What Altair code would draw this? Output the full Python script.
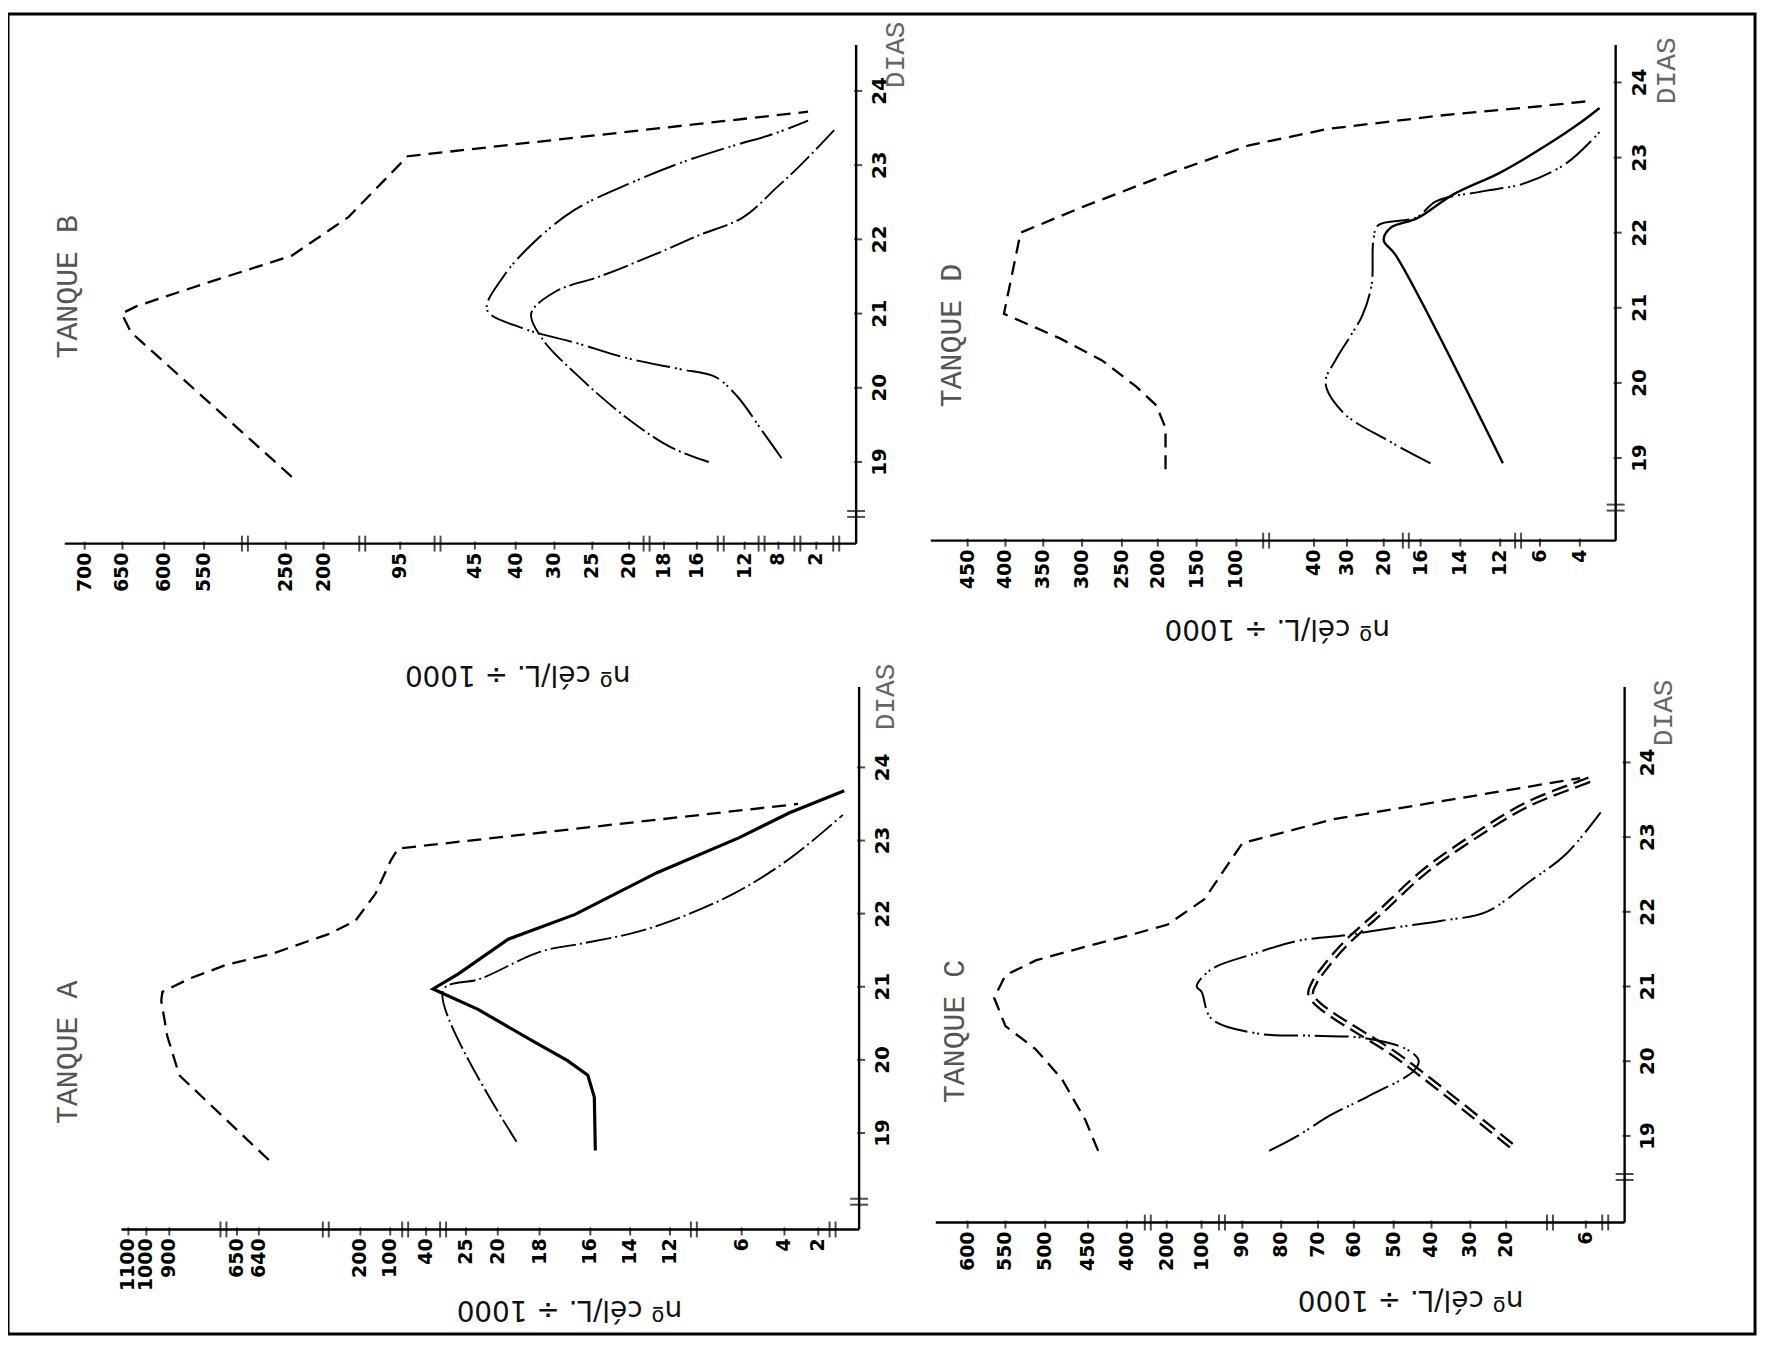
import altair as alt
import pandas as pd

# ---------------- values ----------------
days = [19, 20, 21, 22, 23, 24]

# tick labels of the value axes (n. cel/L / 1000)
A_ticks = [1100, 1000, 900, 650, 640, 200, 100, 40, 25, 20, 18, 16, 14, 12, 6, 4, 2]
B_ticks = [700, 650, 600, 550, 250, 200, 95, 45, 40, 30, 25, 20, 18, 16, 12, 8, 2]
C_ticks = [600, 550, 500, 450, 400, 200, 100, 90, 80, 70, 60, 50, 40, 30, 20, 6]
D_ticks = [450, 400, 350, 300, 250, 200, 150, 100, 40, 30, 20, 16, 14, 12, 6, 4]

# axis breaks (values along the value axis, and day on the day axis)
A_breaks = [700, 350, 75, 33.6, 10, 1.3]
B_breaks = [400, 147, 70, 19, 14, 10, 5, 1]
C_breaks = [295, 95, 12.3, 3]
D_breaks = [77, 17.6, 9.3]
A_day_break = [18.06]
B_day_break = [18.30]
C_day_break = [18.45]
D_day_break = [18.34]

# ---- TANQUE A ----
A_dash_day = [18.63, 19.79, 20.33, 20.81, 20.93, 21.11, 21.3, 21.45, 21.72, 21.9, 22.27, 22.74, 22.89, 23.5]
A_dash_val = [597, 863, 909, 935, 930, 826, 690, 584, 338, 222, 150, 98.3, 86.7, 3.2]
A_solid_day = [18.76, 19.49, 19.79, 19.99, 20.27, 20.69, 20.97, 21.18, 21.65, 21.99, 22.56, 23.04, 23.38, 23.68]
A_solid_val = [15.75, 15.8, 16.1, 16.9, 18.4, 23.1, 37.4, 27.7, 19.5, 16.6, 12.65, 6.2, 3.7, 0.73]
A_cross_day = [18.88, 20.95, 21.11, 21.48, 21.6, 21.75, 21.97, 22.27, 22.62, 22.93, 23.35]
A_cross_val = [19.1, 33.6, 22.7, 17.96, 16.2, 13.65, 10.8, 6.7, 4.4, 2.7, 0.8]

# ---- TANQUE B ----
B_dash_day = [18.8, 20.75, 21.0, 21.1, 21.38, 21.78, 22.3, 23.12, 23.72]
B_dash_val = [242, 640, 651, 633, 556, 242, 166, 90, 3.3]
B_plus_day = [19.0, 19.2, 19.6, 20.17, 20.65, 21.0, 21.3, 21.5, 21.78, 22.05, 22.3, 22.7, 23.0, 23.5]
B_plus_val = [15, 17.6, 20.4, 27, 33, 36, 29.8, 24, 18.7, 15.9, 12.1, 8.2, 4.5, 1.0]
B_eq_day = [19.05, 19.4, 19.9, 20.15, 20.25, 20.4, 20.6, 20.8, 21.05, 21.5, 21.95, 22.4, 22.77, 23.03, 23.25, 23.42, 23.6]
B_eq_val = [7.5, 9.8, 12.7, 14.5, 17, 20.3, 27, 38, 43.5, 41.5, 35.5, 27.3, 19.8, 17, 13.2, 8.6, 3.3]

# ---- TANQUE C ----
C_dash_day = [18.8, 19.21, 19.75, 20.16, 20.47, 20.85, 21.15, 21.35, 21.52, 21.68, 21.83, 22.17, 22.92, 23.24, 23.79]
C_dash_val = [437, 453, 480, 512, 550, 565, 550, 512, 457, 395, 197, 99.3, 90, 65.6, 7]
C_dd_day = [18.87, 20.01, 20.88, 21.05, 21.29, 21.59, 22.0, 22.53, 23.0, 23.43, 23.72, 23.77]
C_dd_val = [19.1, 47.4, 71.9, 71, 67.5, 62, 53.3, 42.1, 29.2, 16.5, 7.05, 5.4]
C_bar_day = [18.8, 18.99, 19.28, 19.52, 19.87, 20.01, 20.16, 20.31, 20.34, 20.37, 20.57, 20.93, 21.0,
             21.23, 21.44, 21.61, 21.68, 21.79, 21.88, 22.0, 22.41, 22.77, 23.33]
C_bar_val = [83.1, 75.9, 66.4, 56.75, 44.7, 43.4, 46.6, 57.5, 71, 86, 97.6, 100, 114,
             97.6, 86.9, 75.7, 63.6, 49.5, 37.4, 25.5, 15.8, 9.5, 3.7]

# ---- TANQUE D ----
D_dash_day = [18.85, 19.4, 19.7, 19.95, 20.3, 20.6, 20.92, 22.0, 22.34, 22.8, 23.16, 23.38, 23.56, 23.68, 23.75]
D_dash_val = [190, 190, 202, 230, 275, 330, 402, 380, 300, 182, 91, 36, 15, 6.4, 3.1]
D_solid_day = [18.93, 21.7, 21.9, 22.07, 22.19, 22.51, 22.8, 23.16, 23.46, 23.66]
D_solid_val = [11.6, 18.7, 20, 19.2, 16.4, 14.35, 12, 5.7, 4, 1.8]
D_eq_day = [18.93, 19.23, 19.6, 20.0, 20.3, 20.65, 20.9, 21.3, 21.9, 22.1, 22.2, 22.42, 22.55, 22.65, 22.92, 23.34]
D_eq_val = [15.5, 19.5, 31, 36.5, 33.5, 28.7, 25.8, 23.3, 22.8, 21.5, 16.5, 15.2, 12.9, 8.6, 4.7, 1.8]

# ---------------- layout (page pixels) & styles ----------------
OX, OY = 8, 11          # view origin on the page
W, H = 1755, 1326       # view = the printed frame

LAYOUT = {
    "A": {"xpx": {0: 863, 2: 822, 4: 788, 6: 745, 12: 673, 14: 633, 16: 593, 18: 542, 20: 500, 25: 468,
                  40: 428, 100: 392, 200: 362, 640: 260, 650: 238, 900: 170, 1000: 147, 1100: 129, 1150: 122},
          "days": (17.68, 25.10), "ypx": (1232, 687),
          "title": (68, 1054), "xtitle": (572, 1312), "dias": (890, 697)},
    "B": {"xpx": {0: 860, 2: 820, 8: 782, 12: 748, 16: 700, 18: 667, 20: 632, 25: 595, 30: 557, 40: 518,
                  45: 477, 95: 402, 200: 325, 250: 287, 550: 205, 600: 165, 650: 123, 700: 85, 726: 65},
          "days": (17.90, 24.62), "ypx": (543, 42),
          "title": (68, 285), "xtitle": (520, 674), "dias": (900, 52)},
    "C": {"xpx": {0: 1632, 6: 1593, 20: 1513, 30: 1477, 40: 1438, 50: 1400, 60: 1360, 70: 1324, 80: 1287,
                  90: 1248, 100: 1207, 200: 1172, 400: 1132, 450: 1093, 500: 1050, 550: 1010, 600: 972, 642: 940},
          "days": (17.84, 25.01), "ypx": (1225, 687),
          "title": (959, 1033), "xtitle": (1417, 1302), "dias": (1672, 713)},
    "D": {"xpx": {0: 1623, 4: 1587, 6: 1547, 12: 1507, 14: 1467, 16: 1427, 20: 1390, 30: 1353, 40: 1320,
                  100: 1242, 150: 1202, 200: 1163, 250: 1127, 300: 1087, 350: 1048, 400: 1010, 450: 972, 500: 935},
          "days": (17.90, 24.50), "ypx": (540, 42),
          "title": (956, 334), "xtitle": (1283, 628), "dias": (1675, 68)},
}

STYLE = {
    "dash":  dict(strokeDash=[14, 8], strokeWidth=2.3, interpolate="linear"),
    "solid": dict(strokeWidth=2.4, interpolate="catmull-rom"),
    "thick": dict(strokeWidth=3.2, interpolate="linear"),
    "eq":    dict(strokeDash=[34, 5, 2, 3, 2, 5], strokeWidth=2.0, interpolate="catmull-rom"),
    "plus":  dict(strokeDash=[26, 4, 2, 4], strokeWidth=1.9, interpolate="catmull-rom"),
    "dd_out": dict(strokeDash=[16, 7], strokeWidth=7, interpolate="catmull-rom"),
    "dd_in":  dict(strokeDash=[16, 7], strokeWidth=2.4, interpolate="catmull-rom"),
}

LABEL_FONT = "DejaVu Sans"
MONO = "Liberation Mono"
ONE = pd.DataFrame({"k": [0]})


def series_df(d, v):
    return pd.DataFrame({"day": d, "val": v, "i": list(range(len(d)))})


def panel(key, ticks, breaks, day_break, series):
    L = LAYOUT[key]
    dom = sorted(L["xpx"])
    rng = [L["xpx"][v] - OX for v in dom]
    day0, day1 = L["days"]
    xs = alt.Scale(domain=dom, range=rng, zero=False, nice=False)
    ys = alt.Scale(domain=[day0, day1], range=[L["ypx"][0] - OY, L["ypx"][1] - OY],
                   zero=False, nice=False)

    def X(field):
        return alt.X(field, scale=xs, axis=None)

    def Y(field):
        return alt.Y(field, scale=ys, axis=None)

    def xd(v):
        return alt.datum(v, scale=xs, axis=None)

    def yd(v):
        return alt.datum(v, scale=ys, axis=None)

    layers = []
    # ---- curves ----
    for (d, v, style, color) in series:
        layers.append(
            alt.Chart(series_df(d, v)).mark_line(color=color, **STYLE[style]).encode(
                x=X("val:Q"), y=Y("day:Q"), order=alt.Order("i:Q"))
        )

    # ---- value axis (bottom of panel) ----
    layers.append(alt.Chart(ONE).mark_rule(color="black", strokeWidth=2.4).encode(
        x=xd(dom[0]), x2=alt.datum(dom[-1]), y=yd(day0)))
    tdf = pd.DataFrame({"val": ticks, "lab": [str(t) for t in ticks]})
    layers.append(alt.Chart(tdf).mark_tick(orient="vertical", size=8, thickness=2, color="black",
                                           yOffset=2).encode(x=X("val:Q"), y=yd(day0)))
    layers.append(alt.Chart(tdf).mark_text(angle=270, align="right", baseline="middle",
                                           font=LABEL_FONT, fontSize=19, fontWeight="bold",
                                           color="black", yOffset=9).encode(
        x=X("val:Q"), y=yd(day0), text="lab:N"))

    # ---- day axis (right side of panel) ----
    layers.append(alt.Chart(ONE).mark_rule(color="black", strokeWidth=2.4).encode(
        x=xd(0), y=yd(day0), y2=alt.datum(day1)))
    ddays = pd.DataFrame({"day": days, "lab": [str(d) for d in days]})
    layers.append(alt.Chart(ddays).mark_tick(orient="horizontal", size=8, thickness=2, color="black",
                                             xOffset=2).encode(y=Y("day:Q"), x=xd(0)))
    layers.append(alt.Chart(ddays).mark_text(angle=270, align="center", baseline="top",
                                             font=LABEL_FONT, fontSize=20, fontWeight="bold",
                                             color="black", xOffset=14).encode(
        y=Y("day:Q"), x=xd(0), text="lab:N"))

    # ---- axis breaks ----
    bdf = pd.DataFrame({"val": breaks})
    for off in (-3, 3):
        layers.append(
            alt.Chart(bdf).mark_tick(orient="vertical", size=16, thickness=2, color="black",
                                     xOffset=off).encode(x=X("val:Q"), y=yd(day0))
        )
    ddf = pd.DataFrame({"day": day_break})
    for off in (-3, 3):
        layers.append(
            alt.Chart(ddf).mark_tick(orient="horizontal", size=18, thickness=2, color="black",
                                     yOffset=off).encode(y=Y("day:Q"), x=xd(0))
        )

    # ---- texts ----
    def txt(text, pos, angle, font, size, color, weight="normal"):
        return alt.Chart(pd.DataFrame({"t": [text]})).mark_text(
            angle=angle, font=font, fontSize=size, color=color, fontWeight=weight,
            align="center", baseline="middle").encode(
            text="t:N", x=alt.value(pos[0] - OX), y=alt.value(pos[1] - OY))

    layers.append(txt("TANQUE " + key, L["title"], 270, MONO, 30, "#555555"))
    layers.append(txt("nº cél/L. ÷ 1000", L["xtitle"], 180, LABEL_FONT, 28, "#111111"))
    layers.append(txt("DIAS", L["dias"], 270, MONO, 28, "#666666"))
    return alt.layer(*layers)


pA = panel("A", A_ticks, A_breaks, A_day_break, [
    (A_dash_day, A_dash_val, "dash", "black"),
    (A_solid_day, A_solid_val, "thick", "black"),
    (A_cross_day, A_cross_val, "plus", "black"),
])
pB = panel("B", B_ticks, B_breaks, B_day_break, [
    (B_dash_day, B_dash_val, "dash", "black"),
    (B_plus_day, B_plus_val, "plus", "black"),
    (B_eq_day, B_eq_val, "eq", "black"),
])
pC = panel("C", C_ticks, C_breaks, C_day_break, [
    (C_dash_day, C_dash_val, "dash", "black"),
    (C_dd_day, C_dd_val, "dd_out", "black"),
    (C_dd_day, C_dd_val, "dd_in", "white"),
    (C_bar_day, C_bar_val, "eq", "black"),
])
pD = panel("D", D_ticks, D_breaks, D_day_break, [
    (D_dash_day, D_dash_val, "dash", "black"),
    (D_solid_day, D_solid_val, "solid", "black"),
    (D_eq_day, D_eq_val, "eq", "black"),
])

chart = alt.layer(pA, pB, pC, pD).resolve_scale(
    x="independent", y="independent"
).properties(
    width=W, height=H,
    padding={"left": 0, "top": 3, "right": 7, "bottom": 19},
    autosize=alt.AutoSizeParams(type="none"),
    background="white",
).configure_view(
    stroke="black", strokeWidth=3
)

chart.save("out.html", embed_options={"renderer": "svg", "actions": False})
